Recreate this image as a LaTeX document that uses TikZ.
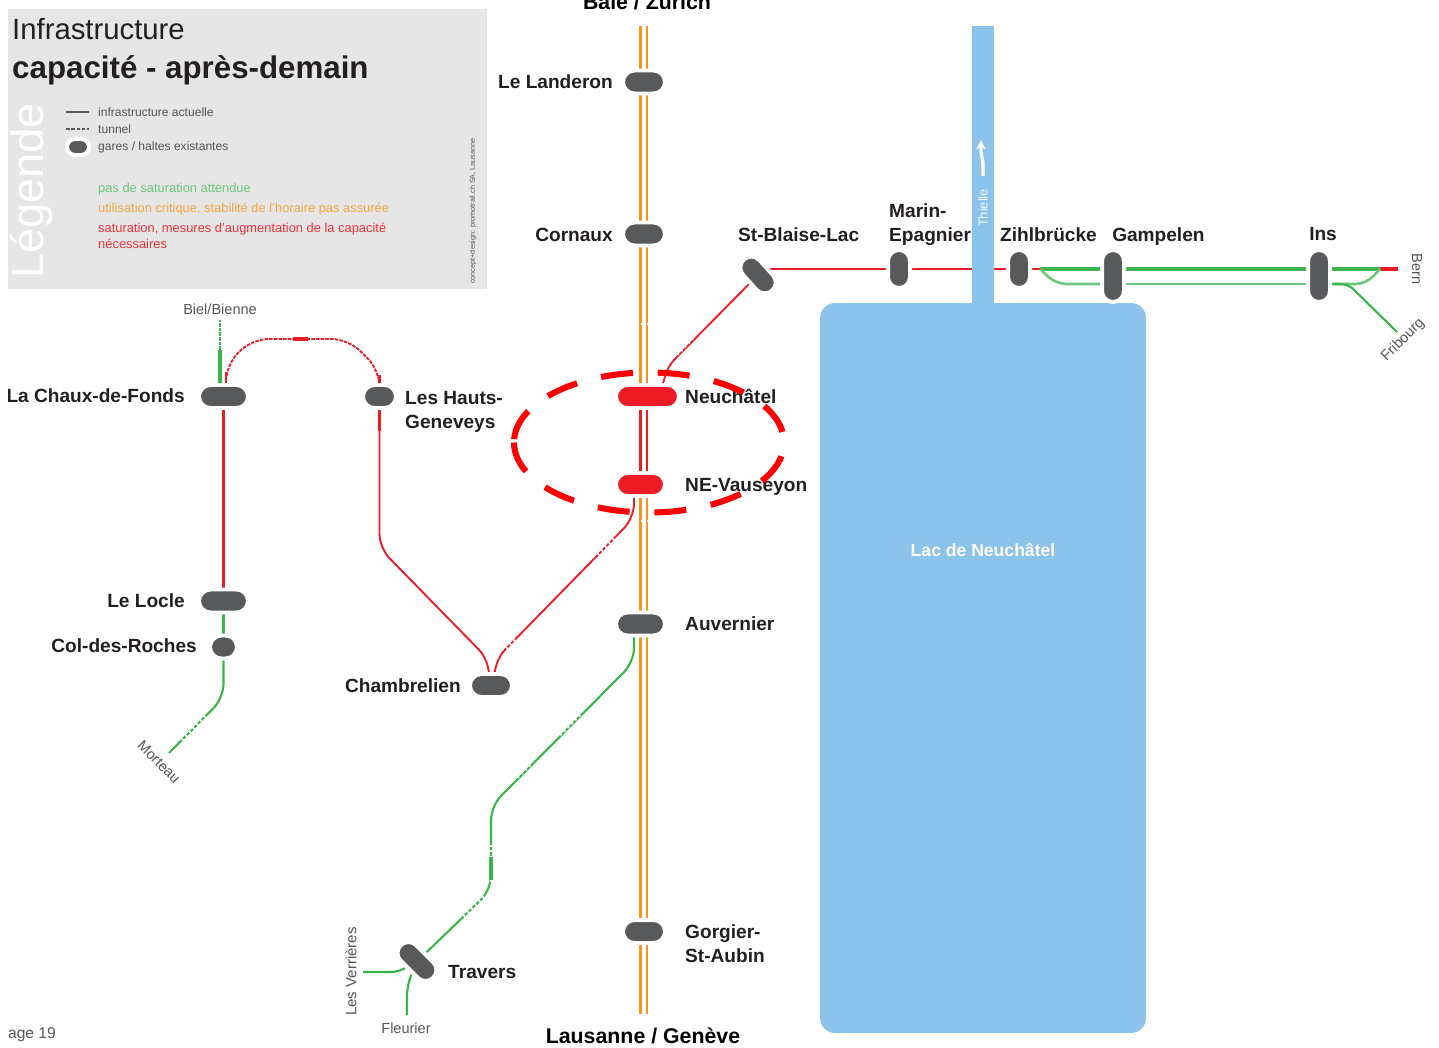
\documentclass[tikz,border=0pt]{standalone}
\usepackage{fontspec}
\setmainfont{Liberation Sans}
\usetikzlibrary{arrows.meta, positioning, shapes.misc, backgrounds}
\definecolor{lakeblue}{RGB}{140,195,234}
\definecolor{legendgray}{RGB}{230,230,230}
\definecolor{stationgray}{RGB}{88,89,91}
\definecolor{labeldark}{RGB}{35,31,32}
\definecolor{smallgray}{RGB}{85,85,90}
\definecolor{trackgreen}{RGB}{57,181,74}
\definecolor{palegreen}{RGB}{108,199,123}
\definecolor{trackorange}{RGB}{247,148,30}
\definecolor{trackred}{RGB}{237,28,36}
\tikzset{
    gare/.style 2 args={rounded rectangle, fill=stationgray, draw=white, line width=3.4pt, inner sep=0pt,
        minimum width={(#1+4)*0.03cm}, minimum height={(#2+4)*0.03cm}},
    garered/.style 2 args={gare={#1}{#2}, fill=trackred},
    stlabel/.style={text=labeldark, inner sep=0pt, align=left, font=\fontsize{16.3}{20.4}\selectfont\bfseries},
    citylabel/.style={text=black, inner sep=0pt, font=\fontsize{18.2}{20}\selectfont\bfseries},
    smalllabel/.style={text=smallgray, inner sep=0pt, font=\fontsize{12.4}{14}\selectfont},
    keytext/.style={inner sep=0pt, anchor=west, text=smallgray, font=\fontsize{10.3}{12}\selectfont},
    legendtext/.style={inner sep=0pt, anchor=west, align=left, font=\fontsize{11}{13.6}\selectfont},
    thinred/.style={draw=trackred, line width=1.6pt, rounded corners=12pt},
    thingreen/.style={draw=trackgreen, line width=1.8pt, rounded corners=12pt},
    palegreenline/.style={draw=palegreen, line width=2.2pt, rounded corners=9pt},
    thickgreen/.style={draw=trackgreen, line width=4pt},
    tunnelgap/.style={draw=white, line width=2.2pt, dash pattern=on 1.5pt off 3pt},
}
\begin{document}
\begin{tikzpicture}[x=0.03cm, y=-0.03cm, >=Stealth]
    \useasboundingbox (0,0) rectangle (1439,1048);
    \begin{scope}
    \clip (8,0) rectangle (1439,1048);

    % Lake and river
    \fill[lakeblue] (972,26) rectangle (994,310);
    \fill[lakeblue, rounded corners=13pt] (820,303) rectangle (1146,1033);
    \node[white!85!lakeblue, rotate=90, inner sep=0pt, font=\fontsize{11}{12}\selectfont] (thielletxt) at (983,208) {Thielle};
    \draw[white, line width=2.8pt, -{Stealth[length=8pt, width=8pt]}] (983,176) -- (983,164) .. controls (983,158) and (981,156) .. (981,151) -- (981,140);
    \node[white, inner sep=0pt, font=\fontsize{15}{16}\selectfont\bfseries] (lacname) at (983,550) {Lac de Neuchâtel};

    % Legend
    \fill[legendgray] (8,9) rectangle (487,289);
    \node[text=labeldark, inner sep=0pt, anchor=west, font=\fontsize{25}{26}\selectfont] (titleone) at (12,29) {Infrastructure};
    \node[text=labeldark, inner sep=0pt, anchor=west, font=\fontsize{26.7}{28}\selectfont\bfseries] (titletwo) at (12,70) {capacité - après-demain};
    \node[white, rotate=90, inner sep=0pt, font=\fontsize{38.5}{39}\selectfont] (legendword) at (32,191) {Légende};
    \coordinate (keylineL) at (66,112);
    \coordinate (keylineR) at (89,112);
    \coordinate (keydashL) at (66,129);
    \coordinate (keydashR) at (89,129);
    \draw[stationgray, line width=1.6pt] (keylineL) -- (keylineR);
    \draw[stationgray, line width=1.4pt, dash pattern=on 3pt off 1.5pt] (keydashL) -- (keydashR);
    \node[gare={18}{12}] (keygare) at (78,147) {};
    \node[keytext] (keyone) at (98,112) {infrastructure actuelle};
    \node[keytext] (keytwo) at (98,129) {tunnel};
    \node[keytext] (keythree) at (98,147) {gares / haltes existantes};
    \node[legendtext, text=palegreen] (satgreen) at (98,189) {pas de saturation attendue};
    \node[legendtext, text=trackorange!85] (satorange) at (98,209) {utilisation critique, stabilité de l'horaire pas assurée};
    \node[legendtext, text=trackred!90, anchor=north west] (satred) at (98,223) {saturation, mesures d'augmentation de la capacité\\nécessaires};
    \node[text=smallgray, rotate=90, inner sep=0pt, font=\fontsize{6.2}{7}\selectfont] (credit) at (473,211) {concept+design: promotrail.ch SA, Lausanne};

    % Stations
    \node[gare={38}{19}] (landeron) at (644,82) {};
    \node[gare={38}{19}] (cornaux) at (644,234) {};
    \node[garered={59}{19}] (neuchatel) at (647.5,396.5) {};
    \node[garered={45}{19}] (vauseyon) at (640.5,484.5) {};
    \node[gare={45}{19}] (auvernier) at (640.5,624) {};
    \node[gare={38}{19}] (gorgier) at (644,931.5) {};
    \node[gare={38}{19}] (chambrelien) at (491,685.5) {};
    \node[gare={29}{19}] (hauts) at (379.5,396.5) {};
    \node[gare={45}{19}] (chaux) at (223.5,396.5) {};
    \node[gare={45}{19}] (locle) at (223.5,601) {};
    \node[gare={23}{19}] (coldesroches) at (223.5,647) {};
    \node[gare={38}{18}, rotate=-48] (stblaise) at (758,275) {};
    \node[gare={34}{18}, rotate=90] (marin) at (899,269) {};
    \node[gare={34}{18}, rotate=90] (zihl) at (1019,269) {};
    \node[gare={48}{18}, rotate=90] (gampelen) at (1113,276) {};
    \node[gare={48}{18}, rotate=90] (ins) at (1319,276) {};
    \node[gare={42}{18}, rotate=-45] (travers) at (417,961.5) {};

    % Free line ends
    \coordinate (baselnord) at (644,26);
    \coordinate (lausannesud) at (644,1014);
    \coordinate (trackW) at (640.5,0);
    \coordinate (trackE) at (647,0);
    \coordinate (bernend) at (1398,269);
    \coordinate (bernjoin) at (1380,269);
    \coordinate (zihljoin) at (1040,269);
    \coordinate (fribourgend) at (1397,332);
    \coordinate (bielend) at (220,320);
    \coordinate (bielsolid) at (220,350);
    \coordinate (morteauend) at (169,753);
    \coordinate (verrieresend) at (363,972);
    \coordinate (fleurierend) at (407,1015);

    % Tracks go under the stations
    \begin{pgfonlayer}{background}
    % Main line
    \foreach \from/\to in {baselnord/landeron, landeron/cornaux, cornaux/neuchatel, vauseyon/auvernier, auvernier/gorgier, gorgier/lausannesud} {
        \draw[trackorange, line width=2.6pt] (trackW |- \from) -- (trackW |- \to);
        \draw[trackorange, line width=2pt] (trackE |- \from) -- (trackE |- \to);
    }
    \draw[trackred, line width=2.6pt] (trackW |- neuchatel) -- (trackW |- vauseyon);
    \draw[trackred, line width=2pt] (trackE |- neuchatel) -- (trackE |- vauseyon);

    % East of Neuchatel
    \draw[thinred, rounded corners=8pt] (stblaise) -- (668,366) -- ([xshift=10pt]neuchatel.center);
    \draw[thinred] (stblaise |- marin) -- (marin);
    \draw[thinred] (marin) -- (zihl);
    \draw[thinred] (zihl) -- (zihljoin);
    \draw[thickgreen] (zihljoin) -- (gampelen.center |- zihljoin);
    \draw[thickgreen] (gampelen.center |- zihljoin) -- (ins.center |- zihljoin);
    \draw[thickgreen] (ins.center |- zihljoin) -- (bernjoin);
    \draw[trackred, line width=4pt] (bernjoin) -- (bernend);
    \draw[palegreenline] (zihljoin) -- (1056,284) -- (gampelen.center |- 0,284);
    \draw[palegreenline] (gampelen.center |- 0,284) -- (ins.center |- 0,284);
    \draw[palegreenline] (ins.center |- 0,284) -- (1366,284) -- (bernjoin);
    \draw[thingreen, rounded corners=6pt] (ins.center |- 0,284) -- (1348,284) -- (fribourgend);

    % Jura lines
    \draw[trackgreen, line width=3pt] (chaux.center -| bielsolid) -- (bielsolid);
    \draw[trackgreen, line width=1.6pt, dash pattern=on 3pt off 1pt] (bielsolid) -- (bielend);
    \draw[trackred, line width=1.8pt] (226,397) -- (226,372);
    \draw[trackred, line width=1.6pt, dash pattern=on 3pt off 1pt, rounded corners=14pt] (226,373) -- (226,365) -- (252,339) -- (348,339) -- (379.5,370) -- (379.5,380);
    \draw[trackred, line width=3pt] (293,339) -- (308,339);
    \draw[trackred, line width=2.6pt] (379.5,375) -- (hauts);
    \draw[trackred, line width=1.8pt] (chaux) -- (locle);
    \draw[thingreen] (locle) -- (coldesroches);
    \draw[thingreen] (coldesroches) -- (223.5,698) -- (morteauend);
    \draw[trackred, line width=3.2pt] (hauts) -- (379.5,431);
    \draw[thinred] (hauts) -- (379.5,548) -- (489,660) -- ([xshift=-2pt]chambrelien.center);
    \draw[thinred] (634,484) -- (634,518) -- (495,660) -- ([xshift=3pt]chambrelien.center);
    \draw[thingreen] (634,624) -- (634,662) -- (491,806) -- (491,890) -- (travers);
    \draw[trackgreen, line width=2.8pt] (491,857) -- (491,880);
    \draw[thingreen, rounded corners=6pt] (verrieresend) -- (398,972) -- (travers);
    \draw[thingreen, rounded corners=9pt] (fleurierend) -- (407,985) -- (travers);

    % Small tunnels on the lines
    \draw[tunnelgap] (693,338) -- (676,356);
    \draw[tunnelgap] (614,539) -- (598,555);
    \draw[tunnelgap] (515,640) -- (505,650);
    \draw[tunnelgap] (205,716) -- (182,740);
    \draw[tunnelgap] (580,715) -- (560,735);
    \draw[tunnelgap] (530,765) -- (515,780);
    \draw[tunnelgap] (491,845) -- (491,857);
    \draw[tunnelgap] (491,880) -- (491,895);
    \draw[tunnelgap] (484,897) -- (462,918);
    \draw[tunnelgap] (636,324) -- (652,324);
    \draw[tunnelgap] (636,521) -- (652,521);
    \end{pgfonlayer}

    % Station names
    \node[stlabel, anchor=base east] (nlanderon) at (613,89) {Le Landeron};
    \node[stlabel, anchor=base east] (ncornaux) at (613,242) {Cornaux};
    \node[stlabel, anchor=base west] (nstblaise) at (738,242) {St-Blaise-Lac};
    \node[stlabel, anchor=west] (nmarin) at (889,225) {Marin-\\Epagnier};
    \node[stlabel, anchor=base west] (nzihl) at (1000,242) {Zihlbrücke};
    \node[stlabel, anchor=base west] (ngampelen) at (1112,242) {Gampelen};
    \node[stlabel, anchor=base west] (nins) at (1309,241) {Ins};
    \node[stlabel, anchor=base east] (nchaux) at (185,402) {La Chaux-de-Fonds};
    \node[stlabel, anchor=west] (nhauts) at (405,412) {Les Hauts-\\Geneveys};
    \node[stlabel, anchor=base west] (nneuchatel) at (685,403) {Neuchâtel};
    \node[stlabel, anchor=base west] (nvauseyon) at (685,491) {NE-Vauseyon};
    \node[stlabel, anchor=base east] (nlocle) at (185,607) {Le Locle};
    \node[stlabel, anchor=base east] (ncol) at (197,652) {Col-des-Roches};
    \node[stlabel, anchor=base east] (nchambrelien) at (461,692) {Chambrelien};
    \node[stlabel, anchor=base west] (nauvernier) at (685,630) {Auvernier};
    \node[stlabel, anchor=west] (ngorgier) at (685,944) {Gorgier-\\St-Aubin};
    \node[stlabel, anchor=base west] (ntravers) at (448,978) {Travers};

    % Line ends and page
    \node[citylabel] (nbale) at (647,2) {Bâle / Zurich};
    \node[citylabel] (nlausanne) at (643,1036) {Lausanne / Genève};
    \node[smalllabel] (nbiel) at (220,309) {Biel/Bienne};
    \node[smalllabel, rotate=-90] (nbern) at (1417,269) {Bern};
    \node[smalllabel, rotate=45] (nfribourg) at (1403,340) {Fribourg};
    \node[smalllabel, rotate=-45] (nmorteau) at (159,762) {Morteau};
    \node[smalllabel, rotate=90, font=\fontsize{12.8}{14}\selectfont] (nverrieres) at (351,971.5) {Les Verrières};
    \node[smalllabel] (nfleurier) at (406,1028) {Fleurier};
    \node[smalllabel, anchor=east, font=\fontsize{13.3}{14}\selectfont] (npage) at (56,1035) {Page 19};

    % Marked section
    \draw[red, line width=5.2pt, dash pattern=on 27.3pt off 21.2pt] (514,442.5) arc (180:-180:135 and 70);
    \end{scope}
\end{tikzpicture}
\end{document}
